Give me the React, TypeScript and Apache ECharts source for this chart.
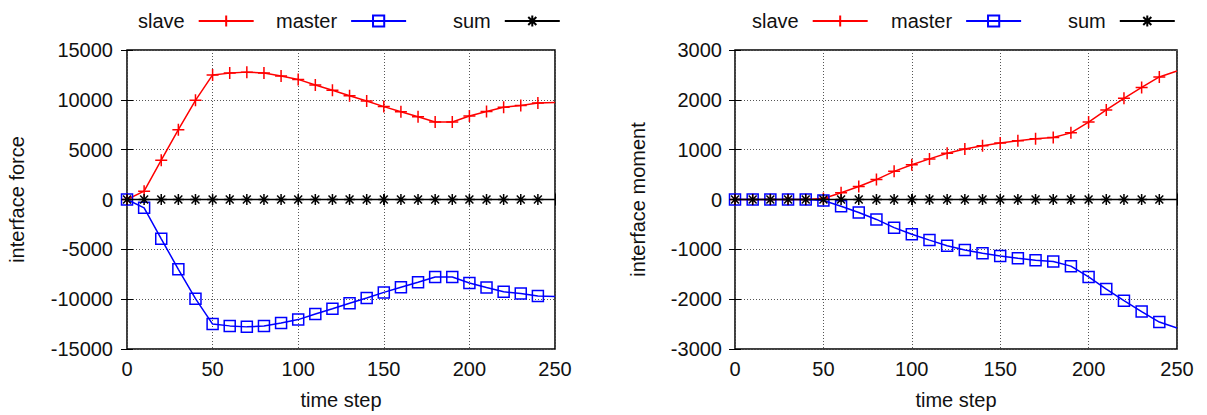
import React, { useEffect, useRef } from "react";
import * as echarts from "echarts";

const timeSteps = [0, 10, 20, 30, 40, 50, 60, 70, 80, 90, 100, 110, 120, 130, 140, 150, 160, 170, 180, 190, 200, 210, 220, 230, 240, 250];

const forceSlave = [0, 840, 3950, 7000, 9950, 12500, 12680, 12780, 12700, 12400, 12050, 11480, 10970, 10410, 9880, 9320, 8800, 8300, 7780, 7780, 8370, 8830, 9260, 9430, 9680, 9720];
const forceMaster = [0, -840, -3950, -7000, -9950, -12500, -12680, -12780, -12700, -12400, -12050, -11480, -10970, -10410, -9880, -9320, -8800, -8300, -7780, -7780, -8370, -8830, -9260, -9430, -9680, -9720];
const forceSum = [0, 0, 0, 0, 0, 0, 0, 0, 0, 0, 0, 0, 0, 0, 0, 0, 0, 0, 0, 0, 0, 0, 0, 0, 0, 0];

const momentSlave = [0, 0, 0, 0, 0, 20, 135, 260, 400, 565, 697, 815, 927, 1013, 1079, 1132, 1178, 1218, 1244, 1337, 1554, 1798, 2030, 2248, 2459, 2578];
const momentMaster = [0, 0, 0, 0, 0, -20, -135, -260, -400, -565, -697, -815, -927, -1013, -1079, -1132, -1178, -1218, -1244, -1337, -1554, -1798, -2030, -2248, -2459, -2578];
const momentSum = [0, 0, 0, 0, 0, 0, 0, 0, 0, 0, 0, 0, 0, 0, 0, 0, 0, 0, 0, 0, 0, 0, 0, 0, 0, 0];

const seriesNames = ["slave", "master", "sum"];
const FONT = "'Liberation Sans', Arial, sans-serif";
const FS = 20;
const TXT = "#111";

const PLUS = "path://M0,-5L0,5M-5,0L5,0";
const STAR = "path://M0,-5L0,5M-5,0L5,0M-3.6,-3.6L3.6,3.6M-3.6,3.6L3.6,-3.6";

function toData(vals: number[]) {
  return timeSteps.map((t, i) =>
    i === timeSteps.length - 1 ? { value: [t, vals[i]], symbol: "none" } : [t, vals[i]]
  );
}

function makeSeries(idx: number, vals: number[][]) {
  const styles = [
    { color: "#ff0000", symbol: PLUS, size: 12 },
    { color: "#0000ff", symbol: "rect", size: 11 },
    { color: "#000000", symbol: STAR, size: 11 },
  ];
  return vals.map((v, k) => ({
    type: "line",
    name: seriesNames[k],
    xAxisIndex: idx,
    yAxisIndex: idx,
    data: toData(v),
    symbol: styles[k].symbol,
    symbolSize: styles[k].size,
    showAllSymbol: true,
    color: styles[k].color,
    lineStyle: { color: styles[k].color, width: 1.5 },
    itemStyle: { color: "none", borderColor: styles[k].color, borderWidth: 1.5 },
    z: 3 + k,
    silent: true,
  }));
}

const splitLine = { show: true, lineStyle: { color: "#555", type: [1, 2], width: 1 } };
const fmt = (v: number) => String(v);

function bottomX(grid: number) {
  return {
    type: "value",
    gridIndex: grid,
    min: 0,
    max: 250,
    interval: 50,
    name: "time step",
    nameLocation: "middle",
    nameGap: 41,
    nameTextStyle: { fontSize: FS, fontFamily: FONT, color: TXT },
    axisLine: { show: false },
    axisTick: { show: true, inside: true, length: 6, lineStyle: { color: "#000" } },
    axisLabel: { fontSize: FS, fontFamily: FONT, color: TXT, margin: 10, formatter: fmt },
    splitLine,
  };
}
function topX(grid: number) {
  return {
    type: "value",
    gridIndex: grid,
    position: "top",
    min: 0,
    max: 250,
    interval: 50,
    axisLine: { show: false },
    axisTick: { show: true, inside: true, length: 6, lineStyle: { color: "#000" } },
    axisLabel: { show: false },
    splitLine: { show: false },
  };
}
function leftY(grid: number, lim: number, step: number, name: string, gap: number, margin: number) {
  return {
    type: "value",
    gridIndex: grid,
    min: -lim,
    max: lim,
    interval: step,
    name,
    nameLocation: "middle",
    nameGap: gap,
    nameTextStyle: { fontSize: FS, fontFamily: FONT, color: TXT },
    axisLine: { show: false },
    axisTick: { show: true, inside: true, length: 6, lineStyle: { color: "#000" } },
    axisLabel: { fontSize: FS, fontFamily: FONT, color: TXT, margin, formatter: fmt },
    splitLine,
  };
}
function rightY(grid: number, lim: number, step: number) {
  return {
    type: "value",
    gridIndex: grid,
    position: "right",
    min: -lim,
    max: lim,
    interval: step,
    axisLine: { show: false },
    axisTick: { show: true, inside: true, length: 6, lineStyle: { color: "#000" } },
    axisLabel: { show: false },
    splitLine: { show: false },
  };
}

function legend(name: string, left: number) {
  return {
    data: [name],
    left,
    top: 11,
    padding: 0,
    itemWidth: 55,
    itemHeight: 14,
    align: "right",
    selectedMode: false,
    textStyle: { fontSize: FS, fontFamily: FONT, color: TXT, padding: [0, 9, 0, 0] },
  };
}

export default function App() {
  const ref = useRef<HTMLDivElement>(null);
  useEffect(() => {
    if (!ref.current) return;
    const chart = echarts.init(ref.current, undefined, { renderer: "svg" });
    chart.setOption({
      animation: false,
      backgroundColor: "#fff",
      grid: [
        { left: 127, top: 50, width: 428, height: 303, show: true, borderColor: "#000", borderWidth: 1.5, backgroundColor: "transparent" },
        { left: 735, top: 50, width: 442, height: 303, show: true, borderColor: "#000", borderWidth: 1.5, backgroundColor: "transparent" },
      ],
      legend: [
        legend("slave", 138),
        legend("master", 276),
        legend("sum", 453),
        legend("slave", 752),
        legend("master", 891),
        legend("sum", 1068),
      ],
      xAxis: [bottomX(0), bottomX(1), topX(0), topX(1)],
      yAxis: [
        leftY(0, 15000, 5000, "interface force", 100, 14),
        leftY(1, 3000, 1000, "interface moment", 87, 13),
        rightY(0, 15000, 5000),
        rightY(1, 3000, 1000),
      ],
      series: [
        ...makeSeries(0, [forceSlave, forceMaster, forceSum]),
        ...makeSeries(1, [momentSlave, momentMaster, momentSum]),
      ],
    });
    return () => chart.dispose();
  }, []);
  return (
    <div
      ref={ref}
      style={{ position: "fixed", left: 0, top: 0, width: 1207, height: 415 }}
    />
  );
}
